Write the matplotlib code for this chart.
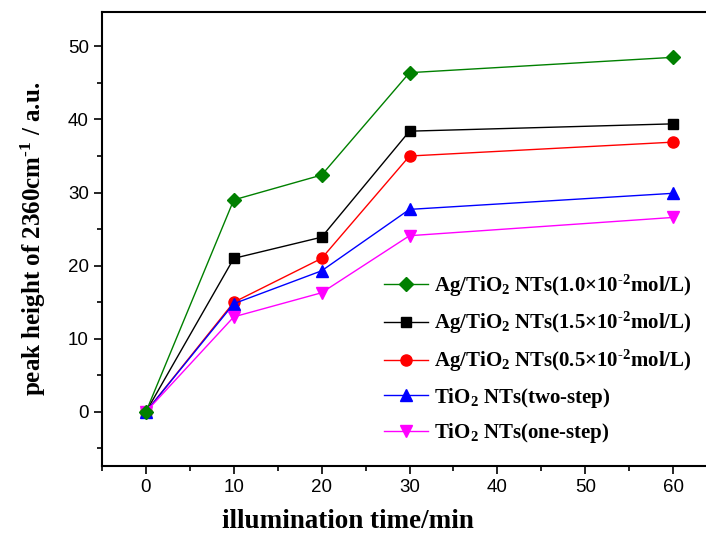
import numpy as np
import matplotlib.pyplot as plt
from matplotlib.ticker import MultipleLocator

plt.rcParams['font.family'] = ['Liberation Sans', 'DejaVu Sans']
plt.rcParams['mathtext.fontset'] = 'custom'
plt.rcParams['mathtext.rm'] = 'Liberation Serif:bold'
plt.rcParams['mathtext.it'] = 'Liberation Serif:bold'
plt.rcParams['mathtext.bf'] = 'Liberation Serif:bold'

# data
time_min = [0, 10, 20, 30, 60]
ag_10 = [0, 29.0, 32.4, 46.4, 48.5]
ag_15 = [0, 21.0, 23.9, 38.4, 39.4]
ag_05 = [0, 15.0, 21.0, 35.0, 36.9]
tio2_two = [0, 14.8, 19.3, 27.7, 29.9]
tio2_one = [0, 13.0, 16.3, 24.1, 26.6]

labels = [
    r'Ag/TiO$_2$ NTs(1.0×10$^{\text{-2}}$mol/L)',
    r'Ag/TiO$_2$ NTs(1.5×10$^{\text{-2}}$mol/L)',
    r'Ag/TiO$_2$ NTs(0.5×10$^{\text{-2}}$mol/L)',
    r'TiO$_2$ NTs(two-step)',
    r'TiO$_2$ NTs(one-step)',
]

fig = plt.figure(figsize=(7.06, 5.37), dpi=100)
ax = fig.add_axes([102 / 706, 71 / 537, 615 / 706, 454 / 537])

ax.plot(time_min, ag_15, color='black', marker='s', ms=7, lw=1, label=labels[1], zorder=3)
ax.plot(time_min, ag_05, color='red', marker='o', ms=8, lw=1, label=labels[2], zorder=3)
ax.plot(time_min, tio2_two, color='blue', marker='^', ms=8, lw=1, label=labels[3], zorder=3)
ax.plot(time_min, tio2_one, color='magenta', marker='v', ms=8, lw=1, label=labels[4], zorder=3)
ax.plot(time_min, ag_10, color='green', marker='D', ms=7, lw=1, label=labels[0], zorder=4)

ax.set_xlim(-5, 65)
ax.set_ylim(-7.4, 54.7)
ax.xaxis.set_major_locator(MultipleLocator(10))
ax.xaxis.set_minor_locator(MultipleLocator(5))
ax.yaxis.set_major_locator(MultipleLocator(10))
ax.yaxis.set_minor_locator(MultipleLocator(5))
ax.tick_params(which='major', direction='out', length=6, width=1.2, labelsize=13.5)
ax.tick_params(which='minor', direction='out', length=3.5, width=1.2)
for sp in ax.spines.values():
    sp.set_linewidth(1.5)

ax.set_xlabel('illumination time/min', fontsize=19.5, family='Liberation Serif',
              fontweight='bold')
ax.xaxis.set_label_coords(0.4, -0.095)
ax.set_ylabel(r'peak height of 2360cm$^{\text{-1}}$ / a.u.', fontsize=18,
              family='Liberation Serif', fontweight='bold', labelpad=14)

handles, labs = ax.get_legend_handles_labels()
order = [4, 0, 1, 2, 3]
leg = ax.legend([handles[i] for i in order], [labs[i] for i in order],
                loc='lower right', bbox_to_anchor=(0.99, 0.005), frameon=False,
                prop={'family': 'Liberation Serif', 'weight': 'bold', 'size': 15},
                handlelength=2.1, handletextpad=0.3, labelspacing=0.55)

fig.savefig('out.png', dpi=100)
